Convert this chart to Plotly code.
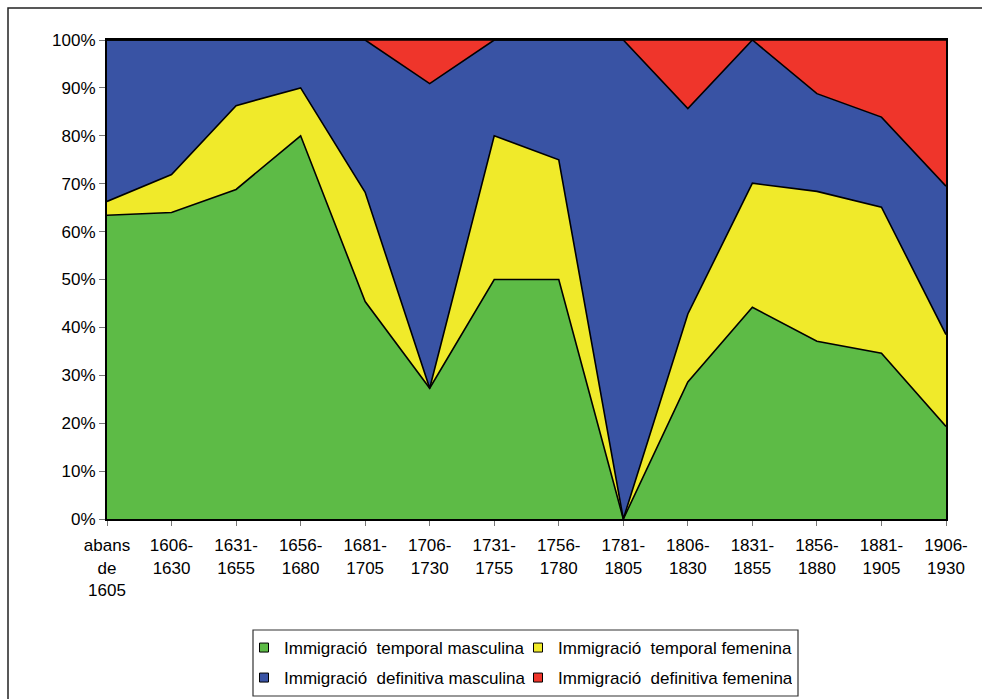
import plotly.graph_objects as go

# Period labels (x axis)
periods = [
    "abans<br>de<br>1605", "1606-<br>1630", "1631-<br>1655", "1656-<br>1680",
    "1681-<br>1705", "1706-<br>1730", "1731-<br>1755", "1756-<br>1780",
    "1781-<br>1805", "1806-<br>1830", "1831-<br>1855", "1856-<br>1880",
    "1881-<br>1905", "1906-<br>1930",
]

# Share of each immigration type per period (%)
temporal_masculina = [63.4, 64.0, 68.8, 80.0, 45.4, 27.3, 50.0, 50.0, 0.0, 28.6, 44.2, 37.1, 34.6, 19.3]
temporal_femenina = [2.9, 7.9, 17.5, 10.0, 22.8, 0.0, 30.0, 25.0, 0.0, 14.2, 25.9, 31.3, 30.5, 19.2]
definitiva_masculina = [33.7, 28.1, 13.7, 10.0, 31.8, 63.6, 20.0, 25.0, 100.0, 42.9, 29.9, 20.4, 18.8, 31.0]
definitiva_femenina = [0.0, 0.0, 0.0, 0.0, 0.0, 9.1, 0.0, 0.0, 0.0, 14.3, 0.0, 11.2, 16.1, 30.5]

series_names = [
    "Immigració\u00a0 temporal masculina",
    "Immigració\u00a0 temporal femenina",
    "Immigració\u00a0 definitiva masculina",
    "Immigració\u00a0 definitiva femenina",
]
series_values = [temporal_masculina, temporal_femenina, definitiva_masculina, definitiva_femenina]
series_colors = ["#5DBB46", "#F0EA2A", "#3953A4", "#EF352B"]
legend_ids = ["legend", "legend", "legend2", "legend2"]

W, H = 982, 699
L, R, T, B = 107, 36, 40, 180
PW, PH = W - L - R, H - T - B


def px_x(p):
    return (p - L) / PW


def px_y(p):
    return (H - B - p) / PH


xs = list(range(len(periods)))
fig = go.Figure()

for name, vals, col in zip(series_names, series_values, series_colors):
    fig.add_trace(go.Scatter(
        x=xs, y=vals, name=name, mode="lines", stackgroup="one",
        line=dict(color="black", width=1.6), fillcolor=col,
        showlegend=False, hoverinfo="skip",
    ))

# Square legend keys
for name, col, lg in zip(series_names, series_colors, legend_ids):
    fig.add_trace(go.Scatter(
        x=[None], y=[None], mode="markers", name=name, legend=lg,
        marker=dict(symbol="square", size=9, color=col, line=dict(color="black", width=1)),
    ))

font = dict(family="Liberation Sans, Arial, sans-serif", size=17, color="black")
legend_common = dict(
    orientation="h", xanchor="left", yanchor="middle", traceorder="normal",
    bgcolor="rgba(0,0,0,0)", font=font, itemwidth=30, entrywidth=229,
    tracegroupgap=0,
)

fig.update_layout(
    width=W, height=H,
    margin=dict(l=L, r=R, t=T, b=B, autoexpand=False),
    paper_bgcolor="white", plot_bgcolor="white",
    font=font,
    xaxis=dict(
        range=[0, len(periods) - 1], tickmode="array", tickvals=xs, ticktext=periods,
        ticks="outside", ticklen=5, tickcolor="#777", showgrid=False, zeroline=False,
        showline=True, linecolor="black", linewidth=2, mirror=True,
        ticklabelstandoff=5,
    ),
    yaxis=dict(
        range=[0, 100], tickmode="linear", dtick=10, ticksuffix="%",
        ticks="outside", ticklen=6, tickcolor="#777", showgrid=False, zeroline=False,
        showline=True, linecolor="black", linewidth=2, mirror=True,
    ),
    legend=dict(x=px_x(244), y=px_y(648), **legend_common),
    legend2=dict(x=px_x(244), y=px_y(678), **legend_common),
    shapes=[
        # legend frame
        dict(type="rect", xref="paper", yref="paper",
             x0=px_x(253), x1=px_x(798), y0=px_y(696), y1=px_y(630),
             line=dict(color="#333", width=1.2), fillcolor="rgba(0,0,0,0)"),
        # chart frame
        dict(type="rect", xref="paper", yref="paper",
             x0=px_x(8), x1=px_x(W + 20), y0=px_y(H + 20), y1=px_y(8),
             line=dict(color="#222", width=1.5), fillcolor="rgba(0,0,0,0)", layer="below"),
    ],
)

fig.write_html("out.html")
